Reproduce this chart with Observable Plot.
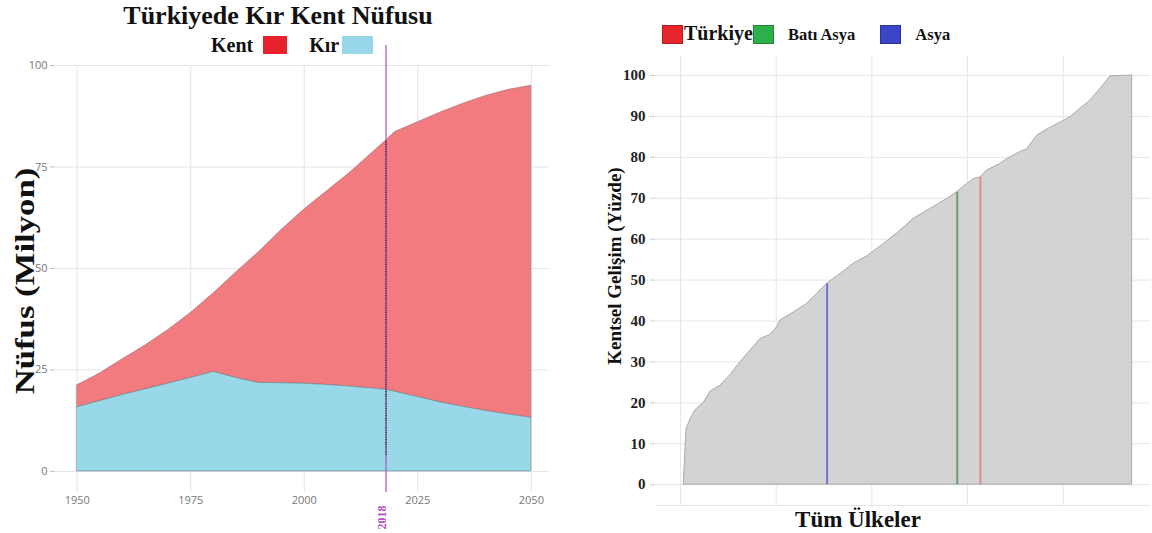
<!DOCTYPE html>
<html>
<head>
<meta charset="utf-8">
<script src="https://cdn.jsdelivr.net/npm/d3@7"></script>
<script src="https://cdn.jsdelivr.net/npm/@observablehq/plot@0.6"></script>
<style>
  html, body { margin: 0; padding: 0; background: #fff; }
  #wrap { position: relative; width: 1152px; height: 533px; overflow: hidden; font-family: "Liberation Serif", serif; background: #fff; }
  .abs { position: absolute; white-space: nowrap; }
  .txt { z-index: 5; }
  .serifb { font-family: "Liberation Serif", serif; font-weight: bold; color: #111; }
  .sq { display: inline-block; vertical-align: middle; }
</style>
</head>
<body>
<div id="wrap">
  <div id="left" class="abs" style="left:0;top:40px;z-index:1;"></div>
  <div id="right" class="abs" style="left:576px;top:50px;z-index:1;"></div>

  <div class="abs serifb txt" style="left:0;width:556px;top:1px;text-align:center;font-size:26px;">Türkiyede Kır Kent Nüfusu</div>
  <div class="abs serifb txt" id="leftLegend" style="left:211px;top:33px;font-size:20px;line-height:24px;"></div>
  <div class="abs serifb txt" style="left:25px;top:281px;font-size:28px;transform:translate(-50%,-50%) rotate(-90deg) scaleX(1.24);">Nüfus (Milyon)</div>

  <div class="abs serifb txt" id="rightLegend" style="left:662px;top:21px;line-height:24px;"></div>
  <div class="abs serifb txt" style="left:615px;top:266px;font-size:19px;transform:translate(-50%,-50%) rotate(-90deg);">Kentsel Gelişim (Yüzde)</div>
  <div class="abs serifb txt" style="left:858px;top:520px;font-size:23px;transform:translate(-50%,-50%);">Tüm Ülkeler</div>
</div>
<script>
// ---------- Left chart data: Türkiye population (millions) ----------
const years    = [1950,1955,1960,1965,1970,1975,1980,1985,1990,1995,2000,2005,2010,2015,2018,2020,2025,2030,2035,2040,2045,2050];
const totalPop = [21.2,24.1,27.6,31.0,34.8,39.0,43.8,49.0,54.0,59.5,64.5,69.0,73.5,78.5,81.5,83.6,86.0,88.4,90.6,92.5,94.0,95.0];
const ruralPop = [15.8,17.3,18.8,20.2,21.6,23.0,24.5,23.0,21.8,21.7,21.6,21.3,20.9,20.4,20.1,19.6,18.3,17.0,15.9,14.9,14.0,13.2];
const markYear = 2018;
const markTop = 81.5;
const markDotBottom = 4;
const markLineTop = 104.9;
const yearTicks = [1950,1975,2000,2025,2050];
const popTicks = [0,25,50,75,100];
const leftSeries = ["Kent","Kır"];
const leftColors = ["#f27b80","#98d8e8"];
const leftLegendColors = ["#e8222c","#98d6ea"];
const leftLegendWidths = [24,31];

// ---------- Right chart data: urbanisation (%) of all countries, ranked ----------
const countryRank = [1.7,3.1,5.2,7.8,12.2,15.7,20.9,26.1,31.3,36.6,41.8,47.0,50.5,52.2,59.2,66.2,71.4,76.6,83.6,90.5,97.5,106.2,114.0,121.9,130.6,139.3,144.6,149.8,153.3,156.7,160.2,167.2,170.7,177.6,181.0,186.4,192.4,203.8,209.0,214.2,219.4,224.7,236.0];
const urbanPct    = [0,13.5,16.0,18.2,20.0,22.8,24.2,26.8,29.9,32.8,35.6,36.6,38.5,40.1,42.1,44.2,46.6,49.1,51.5,54.0,55.8,58.8,61.7,65.0,67.4,69.8,71.5,73.5,74.7,75.1,76.8,78.4,79.6,81.3,81.9,85.3,87.0,89.8,91.9,93.9,96.7,99.8,100];
const refNames  = ["Türkiye","Batı Asya","Asya"];
const refRank   = [156.7,144.6,76.6];
const refValue  = [75.1,71.5,49.1];
const refLineColors   = ["#e28a8c","#6c9c74","#6f74d4"];
const refLegendColors = ["#e8242c","#2bb04a","#3a45c8"];
const refLegendSizes  = [20,16.5,16.5];
const pctTicks = [0,10,20,30,40,50,60,70,80,90,100];
const rankGrid = [0,50,100,150,200];

// ---------- Left legend ----------
document.getElementById("leftLegend").innerHTML = leftSeries.map((s,i) =>
  `<span style="margin-right:${i===0?22:0}px">${s}<span class="sq" style="width:${leftLegendWidths[i]}px;height:18px;background:${leftLegendColors[i]};margin-left:${i===0?10:3}px;margin-top:-4px"></span></span>`
).join("");

// ---------- Right legend ----------
document.getElementById("rightLegend").innerHTML = refNames.map((s,i) =>
  `<span class="sq" style="width:19px;height:17px;background:${refLegendColors[i]};border:1px solid rgba(0,0,0,0.25);margin-top:-4px"></span><span style="font-size:${refLegendSizes[i]}px;margin-left:${i===0?1:14}px;margin-right:${i===0?0:(i===1?25:0)}px">${s}</span>`
).join("");

// ---------- Left chart ----------
const popRows = years.map((y,i) => ({year:y, total:totalPop[i], rural:ruralPop[i]}));
const left = Plot.plot({
  width: 570, height: 493,
  marginLeft: 54, marginRight: 21, marginTop: 25, marginBottom: 41,
  x: {domain: [1945, 2054]},
  y: {domain: [-5.2, 100]},
  style: "font-family:'Open Sans',sans-serif;font-size:11px;color:#777;background:transparent;overflow:visible;",
  marks: [
    Plot.gridX(yearTicks, {stroke: "#e4e4e4", strokeOpacity: 1}),
    Plot.gridY(popTicks, {stroke: "#e4e4e4", strokeOpacity: 1}),
    Plot.areaY(popRows, {x: "year", y1: "rural", y2: "total", fill: leftColors[0], stroke: "#8a6a78", strokeWidth: 0.8, strokeOpacity: 0.7}),
    Plot.areaY(popRows, {x: "year", y1: 0, y2: "rural", fill: leftColors[1], stroke: "#6a7a80", strokeWidth: 0.8, strokeOpacity: 0.7}),
    Plot.ruleX([markYear], {stroke: "#a855b8", strokeWidth: 1.2, y1: -5.2, y2: markLineTop, clip: false}),
    Plot.ruleX([markYear], {stroke: "#222", strokeWidth: 1.3, strokeDasharray: "1.2,1.2", y1: markDotBottom, y2: markTop}),
    Plot.axisY({ticks: popTicks, tickSize: 4, tickPadding: 3, label: null, stroke: "#bbb", fill: "#777"}),
    Plot.axisX({ticks: yearTicks, tickSize: 0, tickPadding: 4, tickFormat: "d", label: null, fill: "#777"}),
    Plot.text([markYear], {x: d => d, text: d => String(d), frameAnchor: "bottom", dy: 25, rotate: -90, fill: "#b050c0", fontSize: 12, fontFamily: "Liberation Serif", fontWeight: "bold"})
  ]
});
document.getElementById("left").appendChild(left);

// ---------- Right chart ----------
const urbanRows = countryRank.map((r,i) => ({rank: r, pct: urbanPct[i]}));
const refRows = refNames.map((n,i) => ({name: n, rank: refRank[i], value: refValue[i], color: refLineColors[i]}));
const right = Plot.plot({
  width: 576, height: 483,
  marginLeft: 79, marginRight: 2, marginTop: 5, marginBottom: 28,
  x: {domain: [-13.1, 245.6], axis: null},
  y: {domain: [-5.1, 104.9]},
  style: "font-family:'Liberation Serif',serif;font-size:15px;font-weight:bold;color:#222;background:transparent;",
  marks: [
    Plot.gridX(rankGrid, {stroke: "#e6e6e6", strokeOpacity: 1}),
    Plot.gridY(pctTicks, {stroke: "#e6e6e6", strokeOpacity: 1}),
    Plot.ruleY([-5.1], {stroke: "#e6e6e6"}),
    Plot.areaY(urbanRows, {x: "rank", y1: 0, y2: "pct", fill: "#d3d3d3", stroke: "#a9a9a9", strokeWidth: 1}),
    Plot.ruleX(refRows, {x: "rank", y1: 0, y2: "value", stroke: "color", strokeWidth: 2}),
    Plot.axisY({ticks: pctTicks, tickSize: 5, tickFormat: () => "", label: null, stroke: "#ccc"}),
    Plot.axisY({ticks: pctTicks, tickSize: 0, tickPadding: 10, label: null, fill: "#222"})
  ]
});
document.getElementById("right").appendChild(right);
</script>
</body>
</html>
